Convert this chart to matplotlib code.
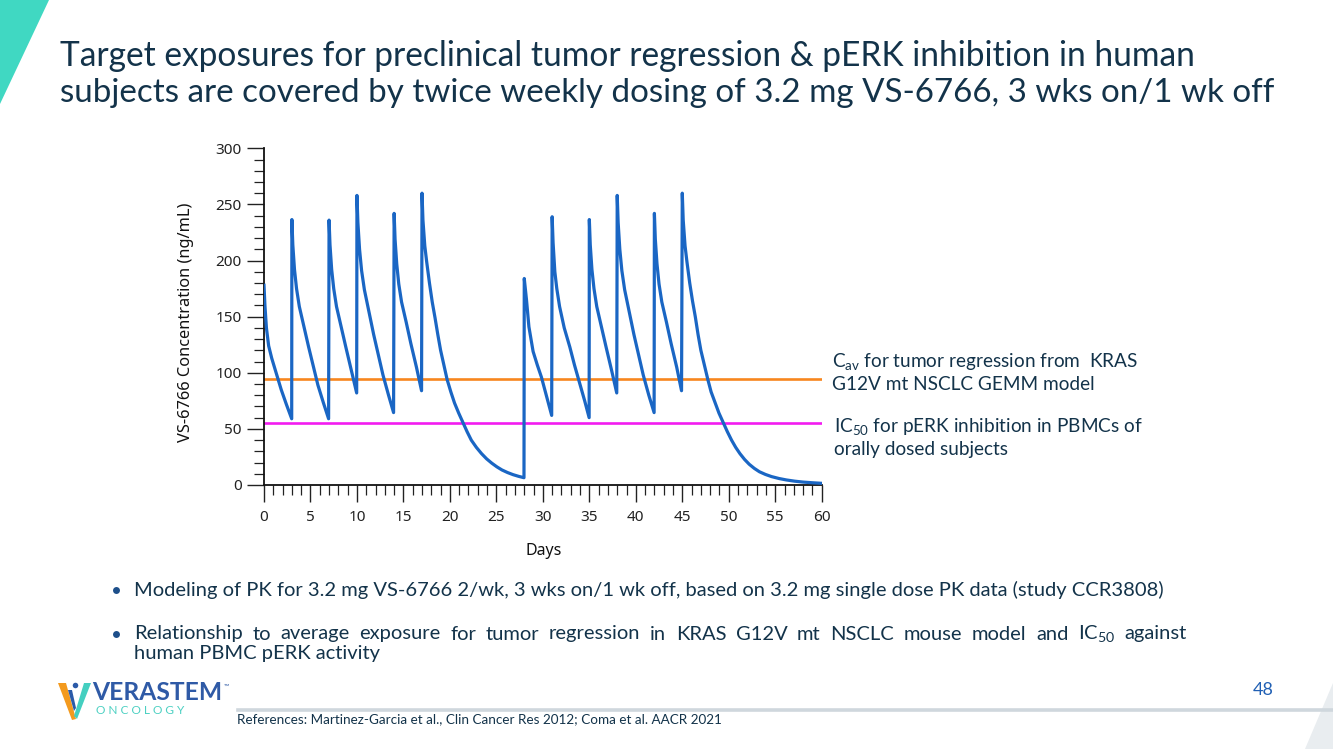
import matplotlib
matplotlib.use("Agg")
import matplotlib.pyplot as plt
from matplotlib.patches import Polygon
from matplotlib.lines import Line2D
from matplotlib.ticker import MultipleLocator
from matplotlib import font_manager

# ---------------- data ----------------
# simulated PK curve (day, ng/mL), dose by dose
seg_d0 = [(0.0, 178), (0.1, 160), (0.26, 140), (0.5, 124), (0.83, 113), (1.3, 100), (1.85, 85), (2.4, 72), (2.98, 59)]
seg_d3 = [(3.0, 236.5), (3.1, 214), (3.28, 192), (3.5, 175), (3.8, 159), (4.3, 141), (4.8, 123), (5.3, 106), (5.8, 89), (6.4, 73), (6.95, 59)]
seg_d7 = [(7.0, 236), (7.1, 214), (7.28, 192), (7.5, 175), (7.8, 159), (8.3, 141), (8.8, 123), (9.4, 102), (9.97, 82)]
seg_d10 = [(10.0, 258), (10.1, 234), (10.28, 210), (10.5, 191), (10.8, 174), (11.3, 154), (11.8, 134), (12.3, 116), (12.8, 98), (13.4, 80), (13.94, 64.5)]
seg_d14 = [(14.0, 242), (14.1, 219), (14.28, 197), (14.5, 179), (14.8, 163), (15.3, 145), (15.8, 126), (16.4, 105), (16.95, 84)]
seg_d17 = [(17.0, 260), (17.05, 248), (17.1, 236), (17.2, 224), (17.3, 213), (17.5, 199), (17.8, 180), (18.1, 163), (18.4, 149),
           (18.7, 134), (19.0, 120), (19.35, 107), (19.7, 94), (20.1, 83), (20.5, 73), (20.95, 64), (21.4, 55.8), (21.85, 47.5),
           (22.3, 40), (22.85, 33.5), (23.4, 28), (23.95, 23.3), (24.5, 19.5), (25.05, 16.2), (25.6, 13.4), (26.2, 11.1),
           (26.8, 9.2), (27.4, 7.7), (27.97, 6.5)]
seg_d28 = [(28.0, 184), (28.24, 165), (28.5, 141), (28.95, 119), (29.4, 107), (29.85, 96), (30.4, 79), (30.95, 62)]
seg_d31 = [(31.0, 239), (31.1, 216), (31.29, 190), (31.5, 175), (31.8, 159), (32.3, 140), (32.9, 123), (33.4, 107), (33.98, 90), (34.5, 75), (34.98, 60)]
seg_d35 = [(35.0, 236.5), (35.1, 214), (35.28, 192), (35.5, 175), (35.8, 159), (36.3, 141), (36.8, 123), (37.4, 102), (37.95, 82)]
seg_d38 = [(38.0, 258), (38.1, 234), (38.28, 210), (38.5, 191), (38.8, 174), (39.3, 154), (39.8, 134), (40.3, 116), (40.8, 98), (41.4, 80), (41.97, 64.5)]
seg_d42 = [(42.0, 242), (42.1, 219), (42.28, 197), (42.5, 179), (42.8, 163), (43.3, 145), (43.8, 126), (44.4, 105), (44.92, 84)]
seg_d45 = [(45.0, 260), (45.1, 236), (45.3, 213), (45.5, 199), (45.8, 180), (46.1, 164), (46.4, 150), (46.7, 134), (47.0, 120),
           (47.4, 106), (47.75, 94), (48.1, 83), (48.5, 74), (48.95, 64), (49.4, 55.8), (49.85, 47.5), (50.3, 40), (50.75, 33.5),
           (51.2, 28), (51.7, 22.8), (52.2, 18.5), (52.75, 14.8), (53.3, 11.8), (53.95, 9.4), (54.6, 7.5), (55.4, 5.8),
           (56.2, 4.5), (57.1, 3.4), (58.0, 2.6), (59.0, 2.0), (60.0, 1.5)]
segments = [seg_d0, seg_d3, seg_d7, seg_d10, seg_d14, seg_d17, seg_d28, seg_d31, seg_d35, seg_d38, seg_d42, seg_d45]

cav_level = 94.5      # Cav for tumor regression (ng/mL)
ic50_level = 55.5     # IC50 pERK inhibition (ng/mL)

x_ticks = [0, 5, 10, 15, 20, 25, 30, 35, 40, 45, 50, 55, 60]
y_ticks = [0, 50, 100, 150, 200, 250, 300]

title_lines = ["Target exposures for preclinical tumor regression & pERK inhibition in human",
               "subjects are covered by twice weekly dosing of 3.2 mg VS-6766, 3 wks on/1 wk off"]
bullet1 = "Modeling of PK for 3.2 mg VS-6766 2/wk, 3 wks on/1 wk off, based on 3.2 mg single dose PK data (study CCR3808)"
bullet2_l1 = "Relationship to average exposure for tumor regression in KRAS G12V mt NSCLC mouse model and IC$_{50}$ against"
bullet2_l2 = "human PBMC pERK activity"
ann_cav = ["C$_{\\rm av}$ for tumor regression from  KRAS", "G12V mt NSCLC GEMM model"]
ann_ic50 = ["IC$_{50}$ for pERK inhibition in PBMCs of", "orally dosed subjects"]
reference = "References: Martinez-Garcia et al., Clin Cancer Res 2012; Coma et al. AACR 2021"

# ---------------- style ----------------
W, H = 1333, 749
plt.rcParams['font.family'] = ['Lato', 'DejaVu Sans']
plt.rcParams['mathtext.fontset'] = 'custom'
plt.rcParams['mathtext.rm'] = 'Lato'
plt.rcParams['mathtext.it'] = 'Lato:italic'
plt.rcParams['mathtext.bf'] = 'Lato:bold'

available = {f.name for f in font_manager.fontManager.ttflist}
logo_family = ['Liberation Sans Narrow', 'Lato'] if 'Liberation Sans Narrow' in available else ['Lato']

TXT = '#13334a'
BLUE = '#1a66c4'
ORANGE = '#f7861e'
MAGENTA = '#f21cf0'

fig = plt.figure(figsize=(W / 100, H / 100), dpi=100)
renderer = fig.canvas.get_renderer()


def P(x, y):
    return (x / W, 1 - y / H)


def ftext(x, y, s, size, width=None, **kw):
    t = fig.text(*P(x, y), s, fontsize=size, **kw)
    if width is not None:
        bb = t.get_window_extent(renderer)
        t.set_fontsize(size * width / bb.width)
    return t


def justify(x0, x1, y, s, size, **kw):
    words = s.split(' ')
    ts = [fig.text(*P(x0, y), w, fontsize=size, **kw) for w in words]
    ws = [t.get_window_extent(renderer).width for t in ts]
    gap = (x1 - x0 - sum(ws)) / (len(ws) - 1)
    x = x0
    for t, w in zip(ts, ws):
        t.set_position(P(x, y))
        x += w + gap


# decorations
fig.patches.append(Polygon([P(0, 0), P(49, 0), P(0, 104)], closed=True, transform=fig.transFigure,
                           facecolor='#40d8c2', edgecolor='none'))
fig.patches.append(Polygon([P(1333, 683), P(1305, 749), P(1333, 749)], closed=True, transform=fig.transFigure,
                           facecolor='#e9edf0', edgecolor='none'))
fig.lines.append(Line2D([238 / W, 1], [1 - 710 / H] * 2, transform=fig.transFigure, color='#cfd7dd', lw=2.6))

# title
ftext(60, 66, title_lines[0], 21, width=1135, color=TXT, va='baseline')
ftext(60, 102, title_lines[1], 21, width=1212, color=TXT, va='baseline')

# ---------------- chart ----------------
ax = fig.add_axes([264 / W, 1 - 485 / H, (821.7 - 264) / W, (485 - 148.3) / H])
days = [p[0] for seg in segments for p in seg]
conc = [p[1] for seg in segments for p in seg]
ax.plot(days, conc, color=BLUE, lw=2.3, solid_joinstyle='round', zorder=3)
ax.axhline(cav_level, color=ORANGE, lw=1.9, zorder=2)
ax.axhline(ic50_level, color=MAGENTA, lw=1.9, zorder=2)

ax.set_xlim(0, 60)
ax.set_ylim(0, 300)
ax.set_xticks(x_ticks)
ax.set_yticks(y_ticks)
ax.xaxis.set_minor_locator(MultipleLocator(1))
ax.yaxis.set_minor_locator(MultipleLocator(10))
for s in ['top', 'right']:
    ax.spines[s].set_visible(False)
for s in ['left', 'bottom']:
    ax.spines[s].set_linewidth(1.3)
    ax.spines[s].set_color('#111111')
ax.tick_params(axis='both', which='major', length=12, width=1.0, color='#222222',
               labelsize=11, labelcolor='#222222')
ax.tick_params(axis='both', which='minor', length=7, width=0.9, color='#222222')
ax.tick_params(axis='y', which='major', pad=4)
ax.tick_params(axis='x', which='major', pad=6)
for lab in ax.get_xticklabels() + ax.get_yticklabels():
    lab.set_family(['Noto Sans', 'DejaVu Sans'])
ax.patch.set_alpha(0)

yl = fig.text(*P(186, 322), "VS-6766 Concentration (ng/mL)", rotation=90, ha='center', va='center',
              fontsize=11, color='#111111', family=['Noto Sans', 'DejaVu Sans'])
bb = yl.get_window_extent(renderer)
yl.set_fontsize(11 * 240 / bb.height)
fig.text(*P(544, 551), "Days", ha='center', va='center', fontsize=11.5, color='#111111',
         family=['Noto Sans', 'DejaVu Sans'])

# annotations
ann_size = 11.5
t = ftext(832, 362, ann_cav[0], ann_size, width=308, color=TXT, va='center')
ann_size = t.get_fontsize()
ftext(832, 384, ann_cav[1], ann_size, color=TXT, va='center')
ftext(834, 427, ann_ic50[0], ann_size, color=TXT, va='center')
ftext(834, 450, ann_ic50[1], ann_size, color=TXT, va='center')

# bullets
t = ftext(134, 590, bullet1, 12.5, width=1033, color=TXT, va='center')
bsize = t.get_fontsize()
justify(134, 1187, 634, bullet2_l1, bsize, color=TXT, va='center')
ftext(134, 654, bullet2_l2, bsize, color=TXT, va='center')
for yb in (590, 634):
    fig.lines.append(Line2D([116 / W], [1 - yb / H], transform=fig.transFigure, marker='o', markersize=5,
                            markerfacecolor='#1d4f8a', markeredgecolor='none', linestyle='none'))

# logo
fig.patches.append(Polygon([P(58, 683), P(66, 683), P(76, 719), P(72, 720)], closed=True, transform=fig.transFigure,
                           facecolor='#f39a1e', edgecolor='none'))
fig.patches.append(Polygon([P(91, 683), P(84, 683), P(74, 716), P(77, 719)], closed=True, transform=fig.transFigure,
                           facecolor='#44cfc0', edgecolor='none'))
fig.patches.append(Polygon([P(68, 690), P(72, 690), P(76, 708), P(74, 711)], closed=True, transform=fig.transFigure,
                           facecolor='#2b5aa8', edgecolor='none'))
fig.lines.append(Line2D([75 / W], [1 - 685 / H], transform=fig.transFigure, marker='o', markersize=4,
                        markerfacecolor='#2b5aa8', markeredgecolor='none', linestyle='none'))
ftext(92, 693, "VERASTEM", 16, width=130, color='#2f5aa6', va='center', fontweight='bold', family=logo_family)
ftext(224, 686, "™", 5, color='#2f5aa6', va='center')
ftext(96, 711, "O N C O L O G Y", 8, width=89, color='#4cd0c2', va='center')

ftext(237, 719, reference, 8.5, width=485, color=TXT, va='center')
ftext(1263, 690, "48", 13, color='#2160b4', ha='center', va='center')

fig.savefig("out.png", dpi=100)
